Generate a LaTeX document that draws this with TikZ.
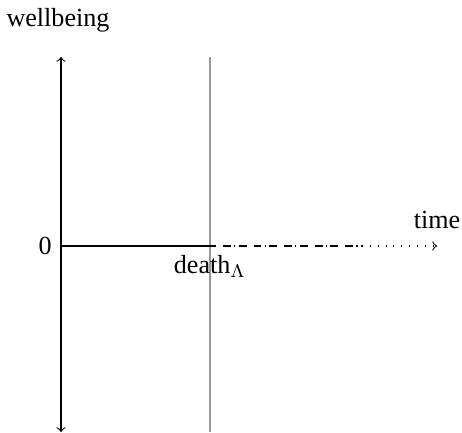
\documentclass[tikz,border=0pt]{standalone}
\usepackage{fontspec}
\setmainfont{Liberation Serif}
\begin{document}
\begin{tikzpicture}[x=0.383pt, y=0.383pt]
    \useasboundingbox (0,0) rectangle (462,432);
    \coordinate (O) at (61,186);
    \coordinate (wtop) at (61,375);
    \coordinate (wbot) at (61,0);
    \coordinate (death) at (210,186);
    \coordinate (dtop) at (210,375);
    \coordinate (dbot) at (210,0);
    \coordinate (fade) at (362,186);
    \coordinate (tend) at (437,186);

    \draw[->] (O) -- (wtop);
    \draw[->] (O) -- (wbot);
    \node (wellbeing) at (58,412) {wellbeing};
    \node[left] (zero) at (O) {0};

    \draw[gray!80] (dtop) -- (dbot);

    \draw[thick] (O) -- (death);
    \draw[thick, dash pattern=on 3pt off 1.3pt on 0.4pt off 1.3pt on 3pt off 2.7pt, dash phase=-5pt] (death) -- (fade);
    \draw[dash pattern=on 0.4pt off 2.6pt, ->] (fade) -- (tend);
    \node (time) at (437,212) {time};
    \node[below] (deathlabel) at (death) {death$_\Lambda$};
\end{tikzpicture}
\end{document}
